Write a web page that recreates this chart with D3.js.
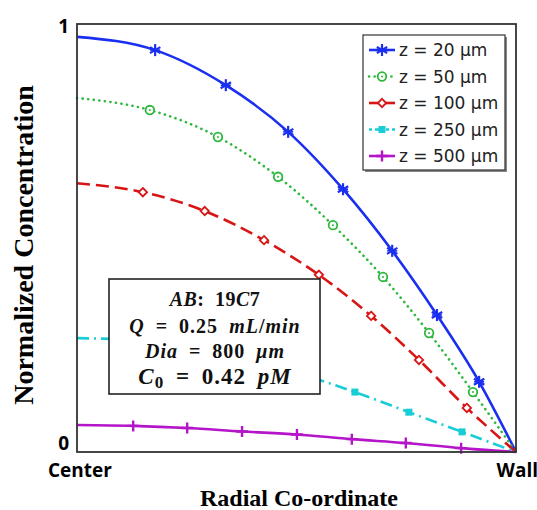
<!DOCTYPE html>
<html>
<head>
<meta charset="utf-8">
<script src="https://cdn.jsdelivr.net/npm/d3@7"></script>
<style>
  body { margin: 0; background: #fff; }
  svg { display: block; }
</style>
</head>
<body>
<figure id="chart" style="margin:0"></figure>
<script>
// radial position (0 = center, 1 = wall) and normalized concentration
const x20 = [0, 0.178, 0.339, 0.481, 0.606, 0.718, 0.820, 0.916, 1];
const y20 = [0.970, 0.939, 0.857, 0.748, 0.614, 0.470, 0.320, 0.164, 0];
const x50 = [0, 0.166, 0.321, 0.458, 0.583, 0.697, 0.802, 0.902, 1];
const y50 = [0.827, 0.799, 0.736, 0.643, 0.530, 0.409, 0.278, 0.140, 0];
const x100 = [0, 0.150, 0.291, 0.426, 0.551, 0.670, 0.779, 0.888, 1];
const y100 = [0.628, 0.607, 0.563, 0.495, 0.414, 0.318, 0.215, 0.103, 0];
const x250 = [0, 0.13, 0.25, 0.375, 0.50, 0.633, 0.756, 0.877, 1];
const y250 = [0.266, 0.262, 0.245, 0.220, 0.185, 0.140, 0.093, 0.047, 0];
const x500 = [0, 0.128, 0.251, 0.376, 0.501, 0.626, 0.749, 0.875, 1];
const y500 = [0.063, 0.061, 0.056, 0.048, 0.041, 0.030, 0.021, 0.009, 0];

const seriesLabels = ["z = 20 μm", "z = 50 μm", "z = 100 μm", "z = 250 μm", "z = 500 μm"];
const seriesColors = ["#1a2ff0", "#2db83d", "#d81515", "#19cdd6", "#b515c8"];
const yTicks = [0, 1];
const xTickLabels = ["Center", "Wall"];

const series = [
  {x: x20, y: y20, dash: null, marker: "asterisk"},
  {x: x50, y: y50, dash: "0.1 5.5", marker: "circle", cap: "round"},
  {x: x100, y: y100, dash: "13 6", marker: "diamond"},
  {x: x250, y: y250, dash: "12 5 2 5", marker: "square"},
  {x: x500, y: y500, dash: null, marker: "plus"}
].map((s, i) => Object.assign(s, {label: seriesLabels[i], color: seriesColors[i]}));

const W = 537, H = 510;
const plot = {left: 77, right: 516, top: 24, bottom: 452};

const svg = d3.select("#chart").append("svg")
  .attr("width", W)
  .attr("height", H);

const x = d3.scaleLinear().domain([0, 1]).range([plot.left, plot.right]);
const y = d3.scaleLinear().domain([0, 1]).range([plot.bottom, plot.top]);

// markers
function drawMarker(g, type, color) {
  if (type === "asterisk") {
    const r = 6;
    [90, 30, -30].forEach(a => {
      const t = a * Math.PI / 180;
      g.append("line")
        .attr("x1", -r * Math.cos(t)).attr("y1", -r * Math.sin(t))
        .attr("x2", r * Math.cos(t)).attr("y2", r * Math.sin(t))
        .attr("stroke", color).attr("stroke-width", 2.2);
    });
    g.append("line").attr("x1", -5).attr("x2", 5).attr("y1", 0).attr("y2", 0)
      .attr("stroke", color).attr("stroke-width", 1.6);
  } else if (type === "circle") {
    g.append("circle").attr("r", 4.3).attr("fill", "#fff")
      .attr("stroke", color).attr("stroke-width", 1.8);
    g.append("circle").attr("r", 1).attr("fill", color);
  } else if (type === "diamond") {
    g.append("path").attr("d", "M0,-4.2L4.2,0L0,4.2L-4.2,0Z")
      .attr("fill", "#fff").attr("stroke", color).attr("stroke-width", 1.8);
  } else if (type === "square") {
    g.append("rect").attr("x", -3.5).attr("y", -3.5).attr("width", 7).attr("height", 7)
      .attr("fill", color);
  } else if (type === "plus") {
    g.append("path").attr("d", "M-6,0H6M0,-5.5V5.5")
      .attr("stroke", color).attr("stroke-width", 2.4);
  }
}

const line = d3.line()
  .x(d => x(d[0]))
  .y(d => y(d[1]))
  .curve(d3.curveMonotoneX);

const curves = svg.append("g");
series.forEach(s => {
  const pts = s.x.map((v, i) => [v, s.y[i]]);
  curves.append("path")
    .datum(pts)
    .attr("d", line)
    .attr("fill", "none")
    .attr("stroke", s.color)
    .attr("stroke-width", 2.6)
    .attr("stroke-linecap", s.cap || "butt")
    .attr("stroke-dasharray", s.dash);
  curves.selectAll(null)
    .data(pts.slice(1, -1))
    .enter()
    .append("g")
    .attr("transform", d => `translate(${x(d[0])},${y(d[1])})`)
    .each(function() { drawMarker(d3.select(this), s.marker, s.color); });
});

// plot frame
svg.append("rect")
  .attr("x", plot.left).attr("y", plot.top)
  .attr("width", plot.right - plot.left).attr("height", plot.bottom - plot.top)
  .attr("fill", "none").attr("stroke", "#333").attr("stroke-width", 1.8);

// y tick labels
svg.append("g")
  .selectAll("text")
  .data(yTicks)
  .enter()
  .append("text")
  .attr("x", plot.left - 8)
  .attr("y", d => d === 0 ? y(d) - 9 : y(d) + 2)
  .attr("dy", "0.35em")
  .attr("text-anchor", "end")
  .attr("font-family", "'Open Sans', sans-serif")
  .attr("font-weight", "bold")
  .attr("font-size", 19)
  .text(d => d);

// x tick labels
svg.append("text")
  .attr("x", 48).attr("y", 477)
  .attr("font-family", "'Open Sans', sans-serif")
  .attr("font-weight", "bold").attr("font-size", 19)
  .text(xTickLabels[0]);
svg.append("text")
  .attr("x", 538).attr("y", 477)
  .attr("text-anchor", "end")
  .attr("font-family", "'Open Sans', sans-serif")
  .attr("font-weight", "bold").attr("font-size", 19)
  .text(xTickLabels[1]);

// axis titles
svg.append("text")
  .attr("x", 299).attr("y", 506)
  .attr("text-anchor", "middle")
  .attr("font-family", "'Liberation Serif', serif")
  .attr("font-weight", "bold").attr("font-size", 24)
  .text("Radial Co-ordinate");
svg.append("text")
  .attr("transform", "translate(33,245) rotate(-90)")
  .attr("text-anchor", "middle")
  .attr("font-family", "'Liberation Serif', serif")
  .attr("font-weight", "bold").attr("font-size", 28)
  .text("Normalized Concentration");

// legend
const lg = svg.append("g");
lg.append("rect").attr("x", 365).attr("y", 37).attr("width", 142).attr("height", 135)
  .attr("fill", "#888");
lg.append("rect").attr("x", 363).attr("y", 35).attr("width", 142).attr("height", 135)
  .attr("fill", "#fff").attr("stroke", "#333").attr("stroke-width", 1.2);
series.forEach((s, i) => {
  const yy = 50 + i * 26.5;
  const g = lg.append("g");
  g.append("line").attr("x1", 369).attr("x2", 395).attr("y1", yy).attr("y2", yy)
    .attr("stroke", s.color).attr("stroke-width", 2.6)
    .attr("stroke-linecap", s.cap || "butt")
    .attr("stroke-dasharray", s.dash ? (s.marker === "square" ? "3 3 8 3" : (s.marker === "circle" ? s.dash : null)) : null);
  drawMarker(g.append("g").attr("transform", `translate(382,${yy})`), s.marker, s.color);
  g.append("text").attr("x", 399).attr("y", yy).attr("dy", "0.36em")
    .attr("font-family", "'DejaVu Sans', sans-serif").attr("font-size", 17)
    .attr("fill", "#222")
    .text(s.label);
});

// parameter box
const box = svg.append("g");
box.append("rect").attr("x", 109).attr("y", 279).attr("width", 211).attr("height", 115)
  .attr("fill", "#fff").attr("stroke", "#222").attr("stroke-width", 1.6);
const infoLines = [
  [["AB", true], [": 19", false], ["C", true], ["7", false]],
  [["Q", true], [" = 0.25 ", false], ["mL", true], ["/", false], ["min", true]],
  [["Dia", true], [" = 800 ", false], ["μm", true]],
  [["C", true], ["0", false, "sub"], [" = 0.42 ", false], ["pM", true]]
];
const infoY = [306, 333, 358, 384];
infoLines.forEach((parts, i) => {
  const t = box.append("text")
    .attr("x", 215).attr("y", infoY[i])
    .attr("text-anchor", "middle")
    .attr("font-family", "'Liberation Serif', serif")
    .attr("font-weight", "bold")
    .attr("font-size", i === 3 ? 23 : 20)
    .attr("letter-spacing", i === 0 ? 0.5 : 1)
    .attr("word-spacing", 5)
    .attr("fill", "#111");
  parts.forEach(p => {
    const ts = t.append("tspan").text(p[0]).attr("font-style", p[1] ? "italic" : "normal");
    if (p[2] === "sub") ts.attr("font-size", 17).attr("dy", 4);
    else if (i === 3 && p[0].startsWith(" =")) ts.attr("dy", -4);
  });
});
</script>
</body>
</html>
